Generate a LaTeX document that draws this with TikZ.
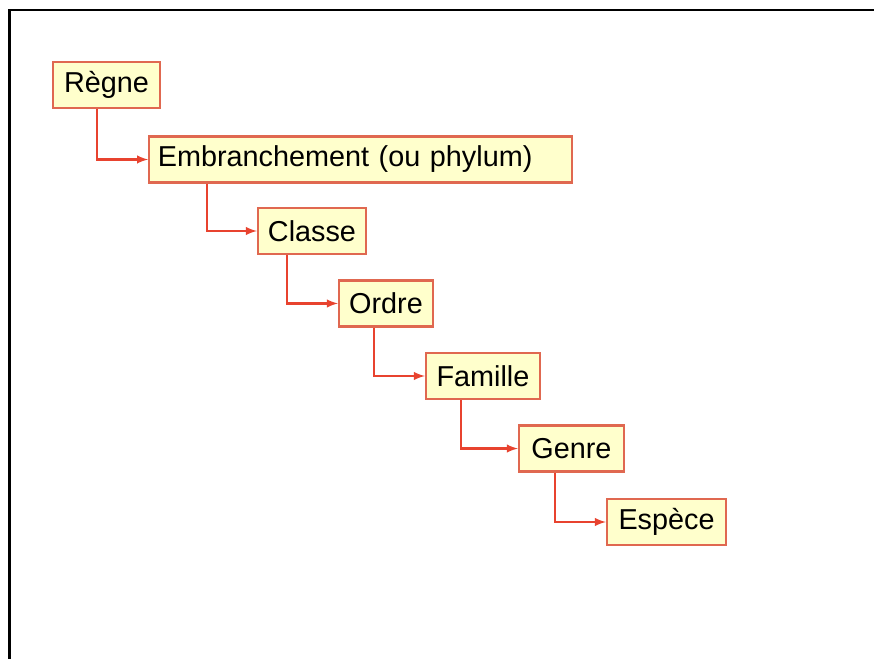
\documentclass[tikz,border=0pt]{standalone}
\usepackage{fontspec}
\setmainfont{Liberation Sans}
\usetikzlibrary{arrows}
\usetikzlibrary{positioning}
\definecolor{boxfill}{HTML}{FFFFCC}
\definecolor{boxline}{HTML}{E06850}
\definecolor{linkred}{HTML}{E8432F}

\begin{document}
\begin{tikzpicture}[
x=1pt, y=1pt,
rank/.style={rectangle, draw=boxline, fill=boxfill, line width=1.7pt, minimum height=34.5pt, inner xsep=6.5pt, font=\fontsize{21.6}{24}\selectfont},
link/.style={draw=linkred, line width=1.8pt, -latex},
]
\useasboundingbox (0,0) rectangle (655.5,-494.25);
\draw[line width=1.9pt] (7.1,-494.25) -- (7.1,-7.5) -- (655.5,-7.5);
\node[rank, minimum width=80pt](regne) at (79.9,-63.75){Règne};
\node[rank, text width=304pt, align=left](embr) at (270.4,-119.6){Embranchement (ou phylum)};
\node[rank, minimum width=81pt](classe) at (234,-173.25){Classe};
\node[rank, minimum width=70.5pt](ordre) at (289.5,-227.6){Ordre};
\node[rank, minimum width=85.5pt](famille) at (362.25,-282){Famille};
\node[rank, minimum width=78.75pt](genre) at (428.6,-336.4){Genre};
\node[rank, minimum width=89.25pt](espece) at (499.9,-391.5){Espèce};
\draw[link] ([xshift=-7pt]regne.south) |- (embr.west);
\draw[link] ([xshift=-115pt]embr.south) |- (classe.west);
\draw[link] ([xshift=-18.75pt]classe.south) |- (ordre.west);
\draw[link] ([xshift=-9pt]ordre.south) |- (famille.west);
\draw[link] ([xshift=-16.5pt]famille.south) |- (genre.west);
\draw[link] ([xshift=-12.4pt]genre.south) |- (espece.west);
\end{tikzpicture}
\end{document}
